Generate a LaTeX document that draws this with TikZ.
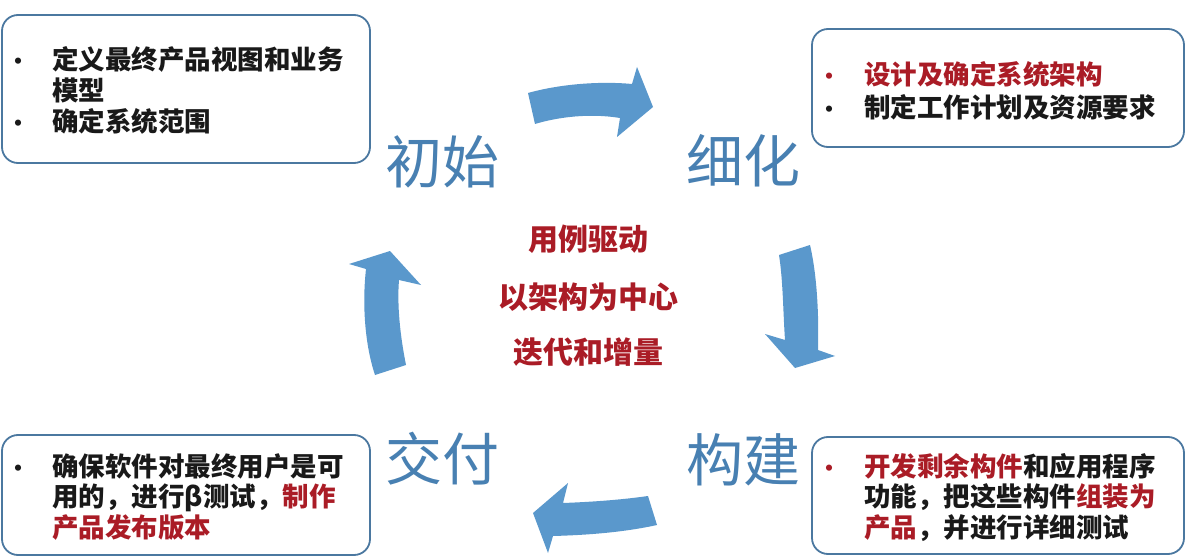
\documentclass[tikz,border=0pt]{standalone}
\usepackage{fontspec}
\newfontfamily\cjk{Noto Sans CJK SC}
\definecolor{boxc}{RGB}{75,120,160}
\definecolor{labelc}{RGB}{72,128,178}
\definecolor{arrowc}{RGB}{90,152,204}
\definecolor{redc}{RGB}{170,28,38}
\definecolor{textc}{RGB}{25,25,25}
\tikzset{
  box/.style={draw=boxc, line width=1.8pt, rounded corners=16pt, inner sep=0pt},
  line/.style={anchor=base west, inner sep=0pt, text=textc, font=\cjk\bfseries\fontsize{26.5}{30}\selectfont},
  bul/.style={anchor=base, inner sep=0pt, text=textc, font=\cjk\bfseries\fontsize{22}{26}\selectfont},
  center/.style={anchor=base, inner sep=0pt, text=redc, font=\cjk\bfseries\fontsize{30}{34}\selectfont},
  phase/.style={anchor=base west, inner sep=0pt, text=labelc, font=\cjk\fontsize{57}{60}\selectfont},
  arrowshape/.style={fill=arrowc}
}
\begin{document}
\begin{tikzpicture}[x=1pt,y=-1pt]
\useasboundingbox (0,0) rectangle (1195,559);
\fill[white] (0,0) rectangle (1195,559);

% boxes
\node (tlbox) [box, minimum width=368pt, minimum height=148pt] at (186,89) {};
\node (trbox) [box, minimum width=372pt, minimum height=118pt] at (998,88) {};
\node (blbox) [box, minimum width=368pt, minimum height=120pt] at (186,495) {};
\node (brbox) [box, minimum width=372pt, minimum height=117pt] at (998,495.5) {};

% top-left text
\node (tlb1) [bul] at (19,70) {•};
\node (tl1) [line] at (52,70) {定义最终产品视图和业务};
\node (tl2) [line] at (52,101) {模型};
\node (tlb3) [bul] at (19,132) {•};
\node (tl3) [line] at (52,132) {确定系统范围};

% top-right text
\node (trb1) [bul, text=redc] at (829,85) {•};
\node (tr1) [line, text=redc] at (864,85) {设计及确定系统架构};
\node (trb2) [bul] at (829,118) {•};
\node (tr2) [line] at (864,118) {制定工作计划及资源要求};

% bottom-left text
\node (blb1) [bul] at (19,476) {•};
\node (bl1) [line] at (52,476) {确保软件对最终用户是可};
\node (bl2) [line] at (52,506) {用的，进行β测试，\textcolor{redc}{制作}};
\node (bl3) [line, text=redc] at (52,537) {产品发布版本};

% bottom-right text
\node (brb1) [bul, text=redc] at (829,476) {•};
\node (br1) [line] at (864,476) {\textcolor{redc}{开发剩余构件}和应用程序};
\node (br2) [line] at (864,506) {功能，把这些构件\textcolor{redc}{组装为}};
\node (br3) [line] at (864,537) {\textcolor{redc}{产品}，并进行详细测试};

% phase labels
\node (init) [phase] at (385,184) {初始};
\node (elab) [phase] at (686,183) {细化};
\node (deliv) [phase] at (385,480) {交付};
\node (build) [phase] at (686,481) {构建};

% center text
\node (c1) [center] at (588,251) {用例驱动};
\node (c2) [center] at (588,308) {以架构为中心};
\node (c3) [center] at (588,363) {迭代和增量};

% arrows
\fill[arrowshape] (528,93) .. controls (560,84) and (600,81) .. (632,84) -- (637,67) -- (653,107) -- (617,137) -- (620,118) .. controls (590,113) and (558,117) .. (535,124) -- cycle;
\fill[arrowshape] (779,255) -- (810,245) .. controls (817,275) and (819,315) .. (818,350) -- (835,356) -- (795,368) -- (765,334) -- (785,340) .. controls (783,310) and (783,280) .. (779,255) -- cycle;
\fill[arrowshape] (533,513) -- (568,483) -- (563,503) .. controls (590,502) and (620,500) .. (648,496) -- (657,525) .. controls (625,532) and (590,535) .. (553,536) -- (548,553) -- cycle;
\fill[arrowshape] (390,251) -- (421,285) -- (399,280) .. controls (397,305) and (400,335) .. (406,365) -- (375,375) .. controls (365,345) and (362,305) .. (366,269) -- (349,264) -- cycle;
\end{tikzpicture}
\end{document}
